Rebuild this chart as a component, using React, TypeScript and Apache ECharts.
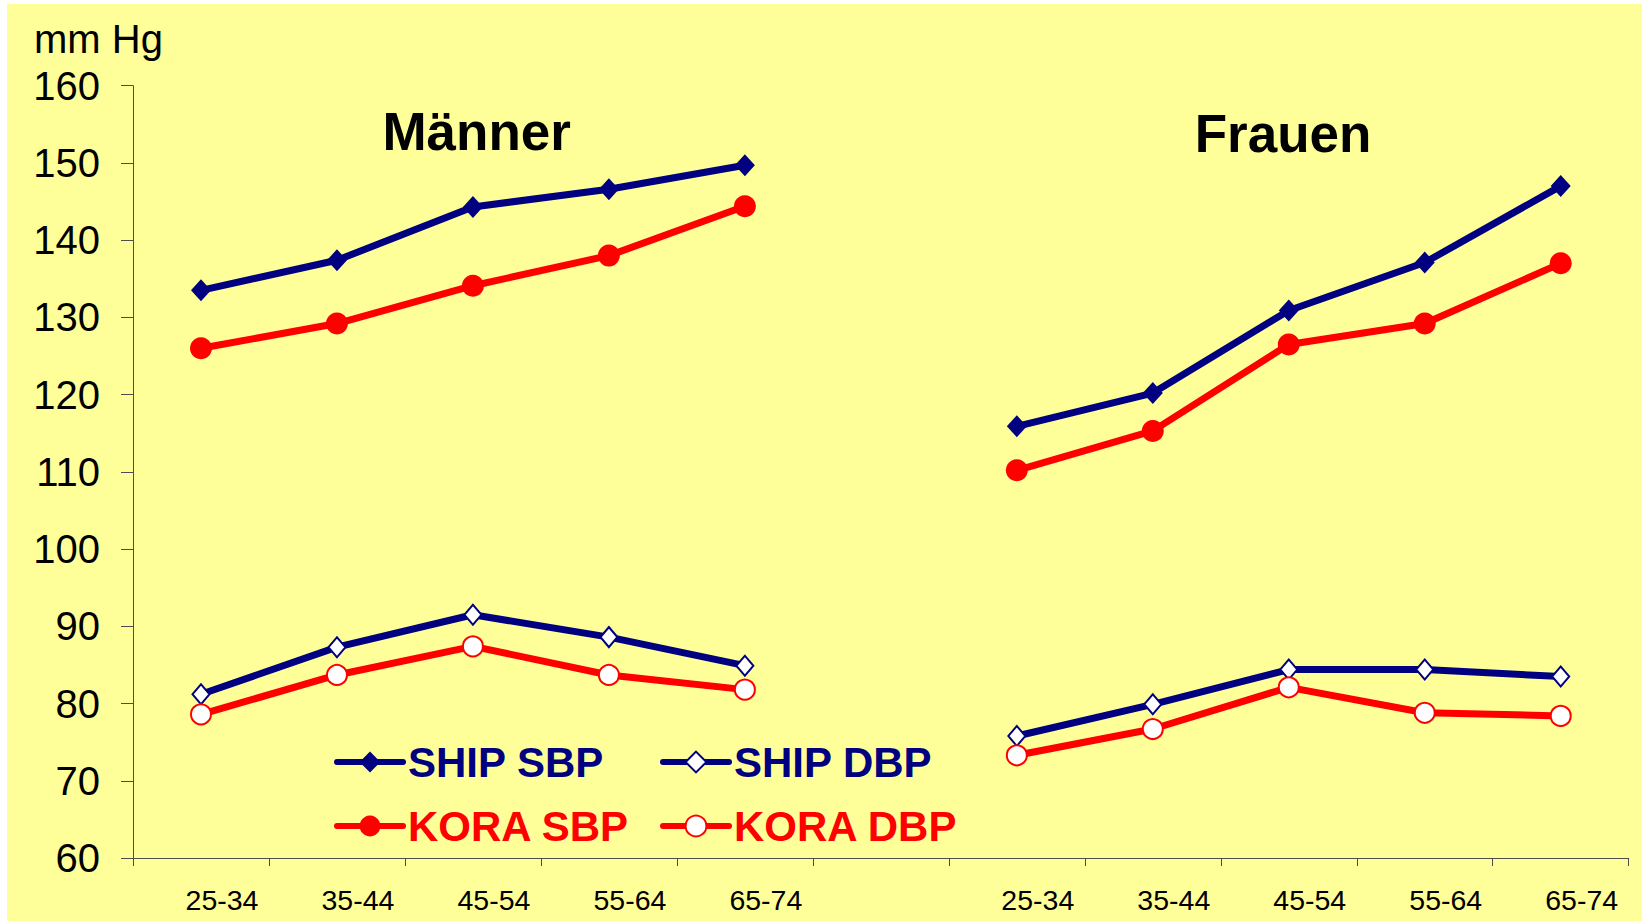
import React, { useEffect, useRef } from 'react';
import * as echarts from 'echarts';

// ---- data ----
const ageGroups = ['25-34', '35-44', '45-54', '55-64', '65-74'];
const categories = [...ageGroups, '', ...ageGroups];

const shipSbpMen = [133.5, 137.4, 144.3, 146.6, 149.7];
const shipSbpWomen = [115.9, 120.2, 130.9, 137.1, 147.0];
const koraSbpMen = [126.0, 129.2, 134.1, 138.0, 144.4];
const koraSbpWomen = [110.2, 115.3, 126.5, 129.2, 137.0];
const shipDbpMen = [81.2, 87.3, 91.5, 88.6, 84.9];
const shipDbpWomen = [75.8, 79.9, 84.4, 84.4, 83.5];
const koraDbpMen = [78.6, 83.7, 87.4, 83.7, 81.8];
const koraDbpWomen = [73.3, 76.7, 82.1, 78.8, 78.4];

const yMin = 60;
const yMax = 160;
const yStep = 10;

const groupTitles = ['Männer', 'Frauen'];
const unitLabel = 'mm Hg';

const NAVY = '#000080';
const RED = '#FF0000';
const FONT = "'Liberation Sans', Arial, Helvetica, sans-serif";
const LINE_W = 7;

const join = (m: number[], f: number[]) => [...m, null, ...f];

export default function App() {
  const ref = useRef<HTMLDivElement>(null);

  useEffect(() => {
    if (!ref.current) return;
    const chart = echarts.init(ref.current, null, { renderer: 'svg' });

    const legendBase = {
      orient: 'horizontal',
      padding: 0,
      itemWidth: 66,
      itemHeight: 26,
      selectedMode: false,
      lineStyle: { width: 6, cap: 'round' },
    };
    const legendText = (color: string) => ({
      color,
      fontSize: 42,
      lineHeight: 42,
      fontWeight: 'bold',
      fontFamily: FONT,
    });

    chart.setOption({
      animation: false,
      backgroundColor: 'transparent',
      textStyle: { fontFamily: FONT },
      grid: { left: 133, right: 17.3, top: 85.7, bottom: 63, containLabel: false },
      xAxis: {
        type: 'category',
        data: categories,
        boundaryGap: true,
        axisLine: { show: true, onZero: false, lineStyle: { color: '#4d4d4d', width: 1 } },
        axisTick: { show: true, length: 8, interval: 0, alignWithLabel: false, lineStyle: { color: '#4d4d4d', width: 1 } },
        axisLabel: {
          interval: 0,
          fontSize: 28.5,
          color: '#000',
          margin: 27,
          padding: [0, 0, 0, 42],
          fontFamily: FONT,
        },
        splitLine: { show: false },
      },
      yAxis: {
        type: 'value',
        min: yMin,
        max: yMax,
        interval: yStep,
        axisLine: { show: true, lineStyle: { color: '#4d4d4d', width: 1 } },
        axisTick: { show: true, length: 12, lineStyle: { color: '#4d4d4d', width: 1 } },
        axisLabel: { fontSize: 40, color: '#000', margin: 33, fontFamily: FONT },
        splitLine: { show: false },
      },
      legend: [
        { ...legendBase, data: ['SHIP SBP'], left: 334, top: 741, textStyle: legendText(NAVY) },
        { ...legendBase, data: ['SHIP DBP'], left: 660, top: 741, textStyle: legendText(NAVY) },
        { ...legendBase, data: ['KORA SBP'], left: 334, top: 805, textStyle: legendText(RED) },
        { ...legendBase, data: ['KORA DBP'], left: 660, top: 805, textStyle: legendText(RED) },
      ],
      graphic: [
        {
          type: 'text',
          left: 34,
          top: 19,
          style: { text: unitLabel, fontSize: 40, fill: '#000', fontFamily: FONT },
        },
        {
          type: 'text',
          x: 476.7,
          y: 131,
          style: {
            text: groupTitles[0],
            fontSize: 53,
            fontWeight: 'bold',
            fill: '#000',
            fontFamily: FONT,
            align: 'center',
            verticalAlign: 'middle',
          },
        },
        {
          type: 'text',
          x: 1283,
          y: 133,
          style: {
            text: groupTitles[1],
            fontSize: 53,
            fontWeight: 'bold',
            fill: '#000',
            fontFamily: FONT,
            align: 'center',
            verticalAlign: 'middle',
          },
        },
      ],
      series: [
        {
          name: 'SHIP SBP',
          type: 'line',
          data: join(shipSbpMen, shipSbpWomen),
          connectNulls: false,
          symbol: 'diamond',
          symbolSize: [20, 22],
          lineStyle: { color: NAVY, width: LINE_W },
          itemStyle: { color: NAVY },
        },
        {
          name: 'SHIP DBP',
          type: 'line',
          data: join(shipDbpMen, shipDbpWomen),
          connectNulls: false,
          symbol: 'diamond',
          symbolSize: [17, 20],
          lineStyle: { color: NAVY, width: LINE_W },
          itemStyle: { color: '#ffffff', borderColor: NAVY, borderWidth: 2 },
        },
        {
          name: 'KORA SBP',
          type: 'line',
          data: join(koraSbpMen, koraSbpWomen),
          connectNulls: false,
          symbol: 'circle',
          symbolSize: 22,
          lineStyle: { color: RED, width: LINE_W },
          itemStyle: { color: RED },
        },
        {
          name: 'KORA DBP',
          type: 'line',
          data: join(koraDbpMen, koraDbpWomen),
          connectNulls: false,
          symbol: 'circle',
          symbolSize: 20,
          lineStyle: { color: RED, width: LINE_W },
          itemStyle: { color: '#ffffff', borderColor: RED, borderWidth: 2 },
        },
      ],
    });

    return () => chart.dispose();
  }, []);

  return (
    <div
      ref={ref}
      style={{
        position: 'fixed',
        left: 0,
        top: 0,
        width: 1646,
        height: 921,
        background: 'linear-gradient(#FFFF99, #FFFF99) 7px 4px / 1635px 917px no-repeat, #ffffff',
      }}
    />
  );
}
